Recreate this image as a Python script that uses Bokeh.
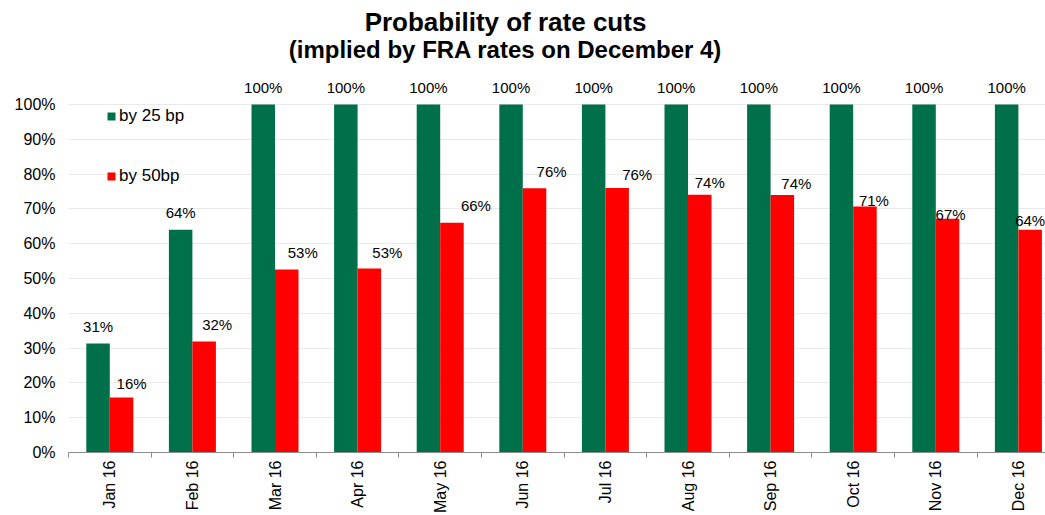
import math

from bokeh.core.properties import value
from bokeh.embed import file_html
from bokeh.models import (ColumnDataSource, FixedTicker, Label, Legend,
                          LegendItem, Range1d)
from bokeh.plotting import figure
from bokeh.resources import INLINE

# Market-implied probability of a rate cut, by month (percent)
months = ["Jan 16", "Feb 16", "Mar 16", "Apr 16", "May 16", "Jun 16",
          "Jul 16", "Aug 16", "Sep 16", "Oct 16", "Nov 16", "Dec 16"]
cut_25bp = [31.3, 64.0, 100, 100, 100, 100, 100, 100, 100, 100, 100, 100]
cut_50bp = [15.8, 31.9, 52.6, 52.9, 66.0, 75.9, 76.0, 74.1, 74.0, 70.7, 67.2, 64.0]
y_ticks = list(range(0, 101, 10))

# hand placement of the 50bp value labels (pixel nudges from the bar top)
label50_dx = [10, 13, 16, 18, 24, 17, 20, 10, 14, 9, 3, 0]
label50_dy = [-14, -17, -17, -16, -17, -17, -14, -12, -11, -6, -4, -9]

GREEN = "#00704A"
RED = "#FF0000"
FONT = "Liberation Sans"

# frame geometry (pixels)
W, H = 1045, 515
LEFT, RIGHT, TOP, BOTTOM = 68, 0, 0, 63
CAT_PX = 82.6           # width of one month slot
PCT_PX = 3.48           # pixels per percentage point
BAR = 23.5 / CAT_PX     # bar width in month units

frame_w = W - LEFT - RIGHT
frame_h = H - TOP - BOTTOM

n = len(months)
centers = [i + 0.5 for i in range(n)]

src = ColumnDataSource(dict(
    x25=[c - BAR / 2 for c in centers],
    x50=[c + BAR / 2 for c in centers],
    v25=cut_25bp,
    v50=cut_50bp,
    t25=[f"{round(v)}%" for v in cut_25bp],
    t50=[f"{round(v)}%" for v in cut_50bp],
    dx50=label50_dx,
    dy50=label50_dy,
))

p = figure(width=W, height=H, output_backend="svg", toolbar_location=None,
           x_range=Range1d(0, frame_w / CAT_PX),
           y_range=Range1d(0, frame_h / PCT_PX),
           min_border_left=LEFT, min_border_right=RIGHT,
           min_border_top=TOP, min_border_bottom=BOTTOM)
p.outline_line_color = None
p.background_fill_color = "white"
p.border_fill_color = "white"

r25 = p.vbar(x="x25", top="v25", bottom=0, width=BAR, source=src,
             fill_color=GREEN, line_color=None)
r50 = p.vbar(x="x50", top="v50", bottom=0, width=BAR, source=src,
             fill_color=RED, line_color=None)

# value labels above the bars
p.text(x="x25", y="v25", text="t25", source=src, text_align="center",
       text_baseline="middle", y_offset=-17, text_font=value(FONT),
       text_font_size="15px", text_color="black")
p.text(x="x50", y="v50", text="t50", source=src, text_align="center",
       text_baseline="middle", x_offset="dx50", y_offset="dy50",
       text_font=value(FONT), text_font_size="15px", text_color="black")

# x axis: month names between boundary ticks
xa = p.xaxis[0]
xa.ticker = FixedTicker(ticks=centers, minor_ticks=list(range(n + 1)))
xa.major_label_overrides = {c: m for c, m in zip(centers, months)}
xa.major_label_orientation = math.pi / 2
xa.major_tick_line_color = None
xa.major_tick_in = 0
xa.major_tick_out = 0
xa.minor_tick_in = 0
xa.minor_tick_out = 5
xa.minor_tick_line_color = "#8c8c8c"
xa.axis_line_color = "#8c8c8c"
xa.major_label_standoff = 3
xa.major_label_text_font = FONT
xa.major_label_text_font_size = "16px"
xa.major_label_text_color = "black"

# y axis: percentages, no axis line
ya = p.yaxis[0]
ya.ticker = FixedTicker(ticks=y_ticks)
ya.major_label_overrides = {t: f"{t}%" for t in y_ticks}
ya.axis_line_color = None
ya.major_tick_line_color = None
ya.major_tick_in = 0
ya.major_tick_out = 0
ya.minor_tick_line_color = None
ya.major_label_standoff = 13
ya.major_label_text_font = FONT
ya.major_label_text_font_size = "16px"
ya.major_label_text_color = "black"

p.xgrid.grid_line_color = None
p.ygrid.ticker = FixedTicker(ticks=y_ticks)
p.ygrid.grid_line_color = "#e9e9e9"
p.ygrid.grid_line_width = 1

legend = Legend(items=[LegendItem(label="by 25 bp", renderers=[r25]),
                       LegendItem(label="by 50bp", renderers=[r50])],
                location=(38, 266), orientation="vertical",
                glyph_width=10, glyph_height=10, label_height=20,
                label_standoff=3, spacing=40, padding=0, margin=0,
                border_line_color=None, background_fill_alpha=0,
                label_text_font=FONT, label_text_font_size="17px",
                label_text_color="black")
p.add_layout(legend, "center")

# two-line heading
title_x = (505 - LEFT) / CAT_PX
p.add_layout(Label(x=title_x, y=(frame_h - 21) / PCT_PX,
                   text="Probability of rate cuts", text_align="center",
                   text_baseline="middle", text_font=FONT,
                   text_font_style="bold", text_font_size="26px",
                   text_color="black"))
p.add_layout(Label(x=title_x, y=(frame_h - 49) / PCT_PX,
                   text="(implied by FRA rates on December 4)", text_align="center",
                   text_baseline="middle", text_font=FONT,
                   text_font_style="bold", text_font_size="24px",
                   text_color="black"))

open("out.html", "w").write(file_html(p, INLINE))
